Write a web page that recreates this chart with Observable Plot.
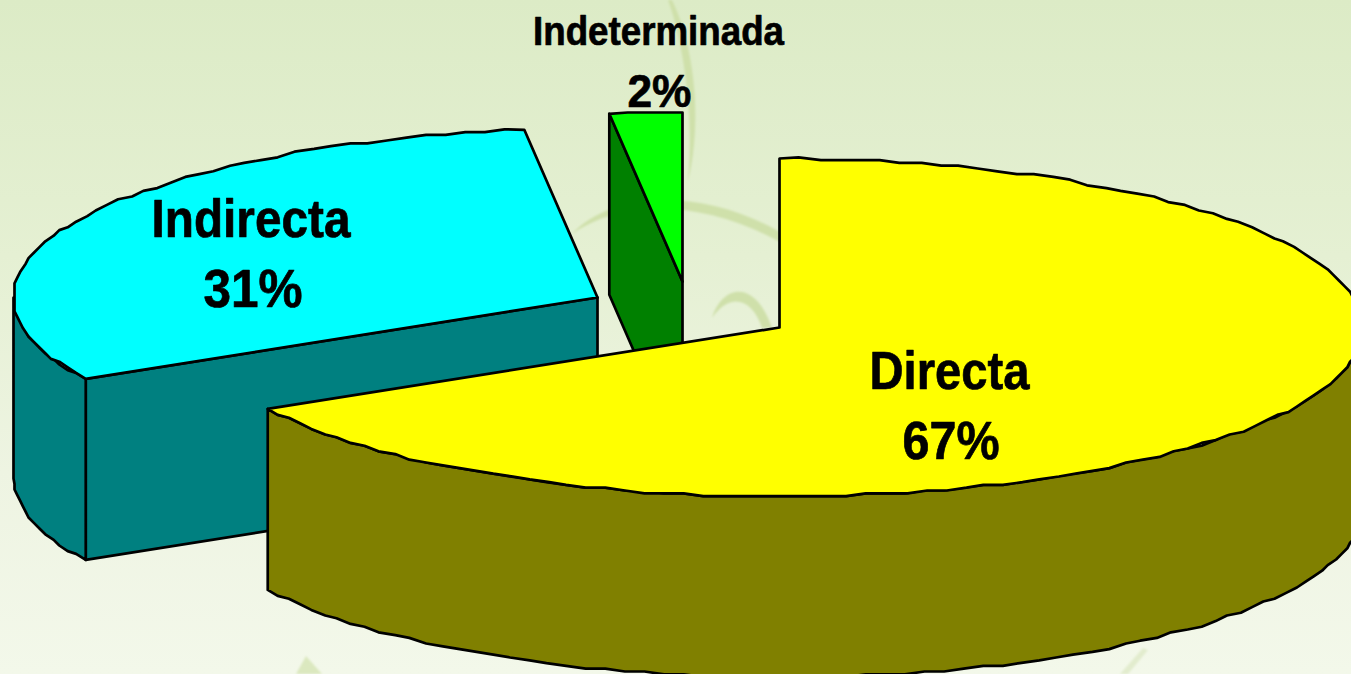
<!DOCTYPE html>
<html>
<head>
<meta charset="utf-8">
<style>
  html, body { margin: 0; padding: 0; width: 1351px; height: 674px; overflow: hidden; }
  body { position: relative; background: linear-gradient(180deg, #dcebc6 0%, #e5f0d3 38%, #eef4e2 70%, #f3f8ea 100%); }
  #leaves { position: absolute; left: 0; top: 0; }
  #chart { position: absolute; left: 0; top: 0; }
  #chart svg { background: transparent; display: block; }
</style>
<script src="https://cdn.jsdelivr.net/npm/d3@7"></script>
<script src="https://cdn.jsdelivr.net/npm/@observablehq/plot@0.6"></script>
</head>
<body>
<svg id="leaves" width="1351" height="674" aria-hidden="true">
  <defs><filter id="soft"><feGaussianBlur stdDeviation="1.2"/></filter></defs>
  <g filter="url(#soft)">
    <path d="M672 0 C692 40 704 115 688 182 C694 115 684 45 668 0 Z" fill="#cfe0aa"/>
    <path d="M572 234 C610 192 700 186 780 232 L780 242 C700 198 620 200 572 234 Z" fill="#cfe0aa"/>
    <path d="M712 318 C722 285 755 278 772 328 L762 328 C752 298 730 292 712 318 Z" fill="#cfe0aa"/>
    <path d="M296 674 L306 656 L322 674 Z" fill="#dbe8bf"/>
    <path d="M1143 648 L1148 650 L1128 674 L1120 674 Z" fill="#e2ecce"/>
  </g>
</svg>
<div id="chart"></div>
<script>
const categories = ["Directa", "Indirecta", "Indeterminada"];
const shares = [67, 31, 2];
const percentLabels = ["67%", "31%", "2%"];

const topColors = ["#ffff00", "#00ffff", "#00ff00"];
const sideColors = ["#808000", "#008080", "#008000"];

// layout of the exploded 3D pie
const rx = 584, ry = 169, depth = 181;
const centers = [[779, 327], [597, 297], [682, 281]];
// [x, baseline, font size, drawn width] for the name and the percentage of each slice
const nameLayout = [[949, 388, 54, 160], [250.5, 236, 53, 199], [658, 44, 40, 251]];
const pctLayout = [[950.5, 458, 53, 97], [252.5, 306, 53, 99], [659, 106, 47, 64]];
const grid = 2.8;

const arcs = d3.pie().sort(null).startAngle(0).endAngle(2 * Math.PI)(shares);
const snap = v => Math.round(v / grid) * grid;

function rim(c, a0, a1, dy = 0) {
  const pts = [];
  const n = Math.max(2, Math.ceil((a1 - a0) / (2 * Math.PI / 180)));
  for (let i = 0; i <= n; i++) {
    const a = a0 + (a1 - a0) * i / n;
    let x = c[0] + rx * Math.sin(a), y = c[1] - ry * Math.cos(a);
    if (i > 0 && i < n) { x = snap(x); y = snap(y); }
    pts.push({x, y: y + dy});
  }
  return pts;
}
const close = p => [...p, p[0]];
const at = (c, dy = 0) => ({x: c[0], y: c[1] + dy});

const polygons = [];
// painter's order: smallest slice behind, largest in front
[2, 1, 0].forEach(i => {
  const c = centers[i], {startAngle: a0, endAngle: a1} = arcs[i];
  const side = sideColors[i];
  // flat cut face on the leading edge
  if (a0 > 0) {
    const p = {x: c[0] + rx * Math.sin(a0), y: c[1] - ry * Math.cos(a0)};
    polygons.push({pts: close([at(c), p, {x: p.x, y: p.y + depth}, at(c, depth)]), fill: side});
  }
  // curved outer wall (only the part facing the viewer)
  const w0 = Math.max(a0, Math.PI / 2), w1 = Math.min(a1, 3 * Math.PI / 2);
  if (w1 > w0) {
    const up = rim(c, w0, w1), down = rim(c, w0, w1, depth).reverse();
    polygons.push({pts: close([...up, ...down]), fill: side});
  }
  // top face
  polygons.push({pts: close([at(c), ...rim(c, a0, a1)]), fill: topColors[i]});
});

const lines = polygons.map(g => Plot.line(g.pts, {
  x: "x", y: "y", fill: g.fill, stroke: "#000", strokeWidth: 2.7, curve: "linear", strokeLinejoin: "round"
}));

const labelRows = categories.flatMap((name, i) => [
  {text: name, l: nameLayout[i]},
  {text: percentLabels[i], l: pctLayout[i]}
]).map(d => ({text: d.text, x: d.l[0], y: d.l[1] - 0.32 * d.l[2], size: d.l[2], w: d.l[3]}));

const textMarks = labelRows.map(d => Plot.text([d], {
  x: "x", y: "y", text: "text", fontSize: d.size, fontWeight: "bold",
  fontFamily: "Liberation Sans", fill: "#000", stroke: "#000", strokeWidth: 0.7,
  render(index, scales, values, dims, ctx, next) {
    const g = next(index, scales, values, dims, ctx);
    g.querySelectorAll("text").forEach(t => {
      t.setAttribute("textLength", d.w);
      t.setAttribute("lengthAdjust", "spacingAndGlyphs");
    });
    return g;
  }
}));

const plot = Plot.plot({
  width: 1351, height: 674, margin: 0,
  x: {domain: [0, 1351], range: [0, 1351], axis: null},
  y: {domain: [0, 674], range: [0, 674], axis: null},
  style: {background: "transparent"},
  marks: [...lines, ...textMarks]
});
document.getElementById("chart").appendChild(plot);
</script>
</body>
</html>
